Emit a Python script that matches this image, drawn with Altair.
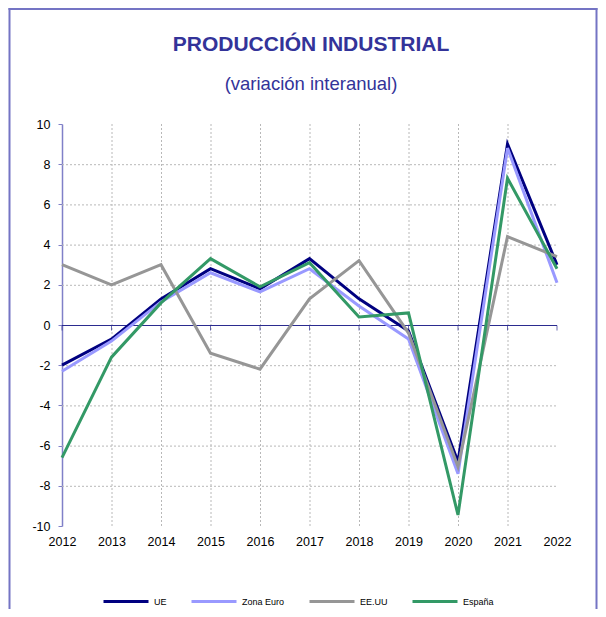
import altair as alt
import pandas as pd

years = list(range(2012, 2023))
series_names = ["UE", "Zona Euro", "EE.UU", "España"]
ue = [-2.0, -0.7, 1.3, 2.8, 1.8, 3.3, 1.3, -0.3, -6.8, 9.0, 3.0]
zona_euro = [-2.3, -0.8, 1.15, 2.6, 1.65, 2.8, 0.95, -0.7, -7.4, 8.8, 2.1]
eeuu = [3.0, 2.0, 3.0, -1.4, -2.2, 1.3, 3.2, -0.4, -7.05, 4.4, 3.4]
espana = [-6.6, -1.6, 1.1, 3.3, 1.9, 3.1, 0.4, 0.6, -9.45, 7.3, 2.8]
colors = ["#000080", "#9999FF", "#969696", "#339966"]
widths = [3, 3, 3, 2.6]
y_ticks = list(range(-10, 11, 2))
y_grid = [-8, -6, -4, -2, 2, 4, 6, 8]
x_grid = years[1:-1]
title_text = "PRODUCCIÓN INDUSTRIAL"
subtitle_text = "(variación interanual)"

FONT = "Liberation Sans"
TITLE_COLOR = "#333399"
FRAME_COLOR = "#7474C4"

rows = []
for name, vals in zip(series_names, [ue, zona_euro, eeuu, espana]):
    for yr, v in zip(years, vals):
        rows.append({"year": yr, "value": v, "series": name})
df = pd.DataFrame(rows)

xs = alt.Scale(domain=[2012, 2022], nice=False, zero=False)
ys = alt.Scale(domain=[-10, 10], nice=False, zero=False)

x_axis = alt.Axis(
    values=years, format="d", domain=False, ticks=False, grid=False,
    labelPadding=9, labelFontSize=12.5, labelColor="#000000",
    labelFont=FONT, title=None, labelFlush=False,
)
y_axis = alt.Axis(
    values=y_ticks, grid=False, domainColor="#8080C8", tickColor="#8080C8",
    tickSize=4, labelPadding=8, labelFontSize=12.5, labelColor="#000000",
    labelFont=FONT, title=None, domainWidth=1.5, labelFlush=False,
    labelExpr="'' + datum.value",
)

hgrid = alt.Chart(pd.DataFrame({"g": y_grid})).mark_rule(
    color="#b8b8b8", strokeDash=[2, 2], strokeWidth=1, yOffset=0.5
).encode(
    y=alt.Y("g:Q", scale=ys, axis=y_axis),
    x=alt.XDatum(2012, scale=xs, axis=x_axis),
    x2=alt.X2Datum(2022),
)

vgrid = alt.Chart(pd.DataFrame({"g": x_grid})).mark_rule(
    color="#b8b8b8", strokeDash=[2, 2], strokeWidth=1, xOffset=0.5
).encode(
    x=alt.X("g:Q", scale=xs, axis=x_axis),
    y=alt.YDatum(10, scale=ys, axis=y_axis),
    y2=alt.Y2Datum(-10),
)

zero_line = alt.Chart(alt.Data(values=[{}])).mark_rule(
    color="#2B2B8F", strokeWidth=1, yOffset=0.5
).encode(
    y=alt.YDatum(0, scale=ys, axis=y_axis),
    x=alt.XDatum(2012, scale=xs, axis=x_axis),
    x2=alt.X2Datum(2022),
)

zero_ticks = alt.Chart(pd.DataFrame({"g": years})).mark_tick(
    color="#2B2B8F", orient="vertical", size=5, yOffset=3, thickness=1
).encode(
    x=alt.X("g:Q", scale=xs, axis=x_axis),
    y=alt.YDatum(0, scale=ys, axis=y_axis),
)

lines = alt.Chart(df).mark_line(strokeJoin="miter").encode(
    x=alt.X("year:Q", scale=xs, axis=x_axis),
    y=alt.Y("value:Q", scale=ys, axis=y_axis),
    color=alt.Color(
        "series:N",
        scale=alt.Scale(domain=series_names, range=colors),
        legend=alt.Legend(
            orient="none", legendX=40, legendY=453.5, direction="horizontal",
            symbolType="stroke", symbolSize=2025, symbolStrokeWidth=3,
            labelFontSize=9, labelFont=FONT, labelColor="#000000",
            labelOffset=4, columnPadding=18, title=None, padding=0,
        ),
    ),
    strokeWidth=alt.StrokeWidth(
        "series:N", scale=alt.Scale(domain=series_names, range=widths), legend=None
    ),
    order=alt.Order("year:Q"),
)

title_mark = alt.Chart(alt.Data(values=[{"t": title_text}])).mark_text(
    font=FONT, fontSize=21, fontWeight="bold", color=TITLE_COLOR,
    align="center", baseline="alphabetic",
).encode(text="t:N", x=alt.value(249), y=alt.value(-73))

subtitle_mark = alt.Chart(alt.Data(values=[{"t": subtitle_text}])).mark_text(
    font=FONT, fontSize=18.5, color=TITLE_COLOR,
    align="center", baseline="alphabetic",
).encode(text="t:N", x=alt.value(249), y=alt.value(-34))

frame_left = alt.Chart(alt.Data(values=[{}])).mark_rule(
    color=FRAME_COLOR, strokeWidth=2
).encode(x=alt.value(-52.5), y=alt.value(-116), y2=alt.value(486))
frame_right = alt.Chart(alt.Data(values=[{}])).mark_rule(
    color=FRAME_COLOR, strokeWidth=2
).encode(x=alt.value(534.5), y=alt.value(-116), y2=alt.value(486))
frame_top = alt.Chart(alt.Data(values=[{}])).mark_rule(
    color=FRAME_COLOR, strokeWidth=2
).encode(x=alt.value(-53.5), x2=alt.value(535.5), y=alt.value(-115))

chart = alt.layer(
    hgrid, vgrid, zero_line, zero_ticks, lines,
    title_mark, subtitle_mark, frame_left, frame_right, frame_top,
).properties(
    width=495,
    height=402,
    autosize=alt.AutoSizeParams(type="none"),
    padding={"left": 54, "top": 116, "right": 41, "bottom": 83},
).configure_view(stroke=None)

chart.save("out.html", embed_options={"renderer": "svg", "actions": False})
